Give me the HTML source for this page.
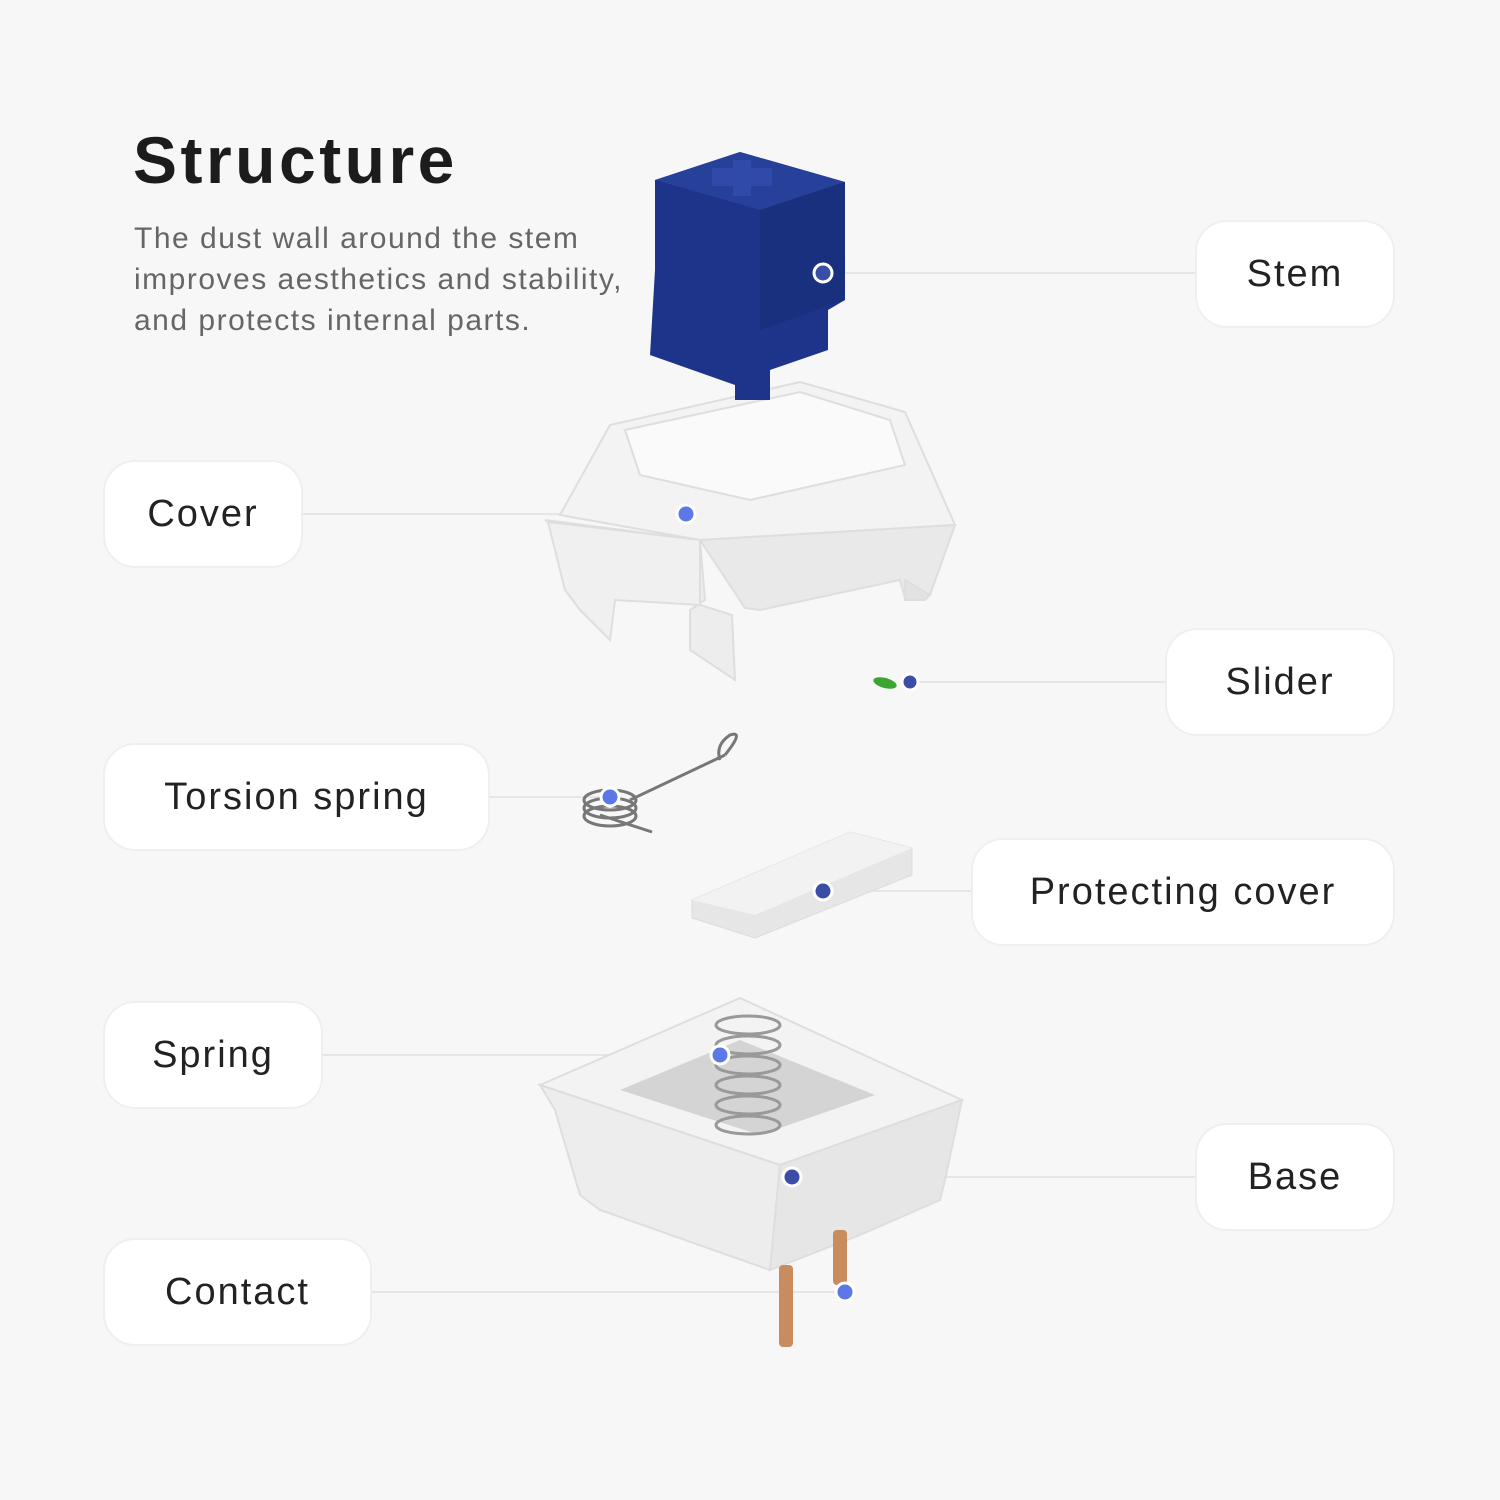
<!DOCTYPE html>
<html><head><meta charset="utf-8"><style>
html,body{margin:0;padding:0}
body{width:1500px;height:1500px;background:#f7f7f7;position:relative;overflow:hidden;font-family:"Liberation Sans",sans-serif}
.box{position:absolute;background:#fff;border:2px solid #efefef;border-radius:32px;box-sizing:border-box;height:108px;display:flex;align-items:center;justify-content:center;font-size:38px;letter-spacing:2px;color:#222}
h1{position:absolute;left:133px;top:122px;margin:0;font-size:66px;font-weight:bold;color:#1c1c1c;letter-spacing:3.5px}
.sub{position:absolute;left:134px;top:218px;font-size:30px;line-height:41px;color:#666;letter-spacing:1.5px}
svg{position:absolute;left:0;top:0}
</style></head><body>
<svg width="1500" height="1500">
<g stroke="#e6e6e6" stroke-width="2" fill="none">
<line x1="823" y1="273" x2="1195" y2="273"/>
<line x1="303" y1="514" x2="686" y2="514"/>
<line x1="910" y1="682" x2="1165" y2="682"/>
<line x1="490" y1="797" x2="610" y2="797"/>
<line x1="823" y1="891" x2="971" y2="891"/>
<line x1="323" y1="1055" x2="720" y2="1055"/>
<line x1="792" y1="1177" x2="1195" y2="1177"/>
<line x1="372" y1="1292" x2="845" y2="1292"/>
</g>
<!-- cover -->
<g stroke="#dedede" stroke-width="2">
<polygon points="560,515 610,425 800,382 905,412 955,525 700,540" fill="#f3f3f3"/>
<polygon points="625,430 800,392 890,420 905,465 750,500 640,475" fill="#fafafa"/>
<polygon points="545,520 700,540 705,600 690,610 690,650 735,680 732,615 700,605" fill="#ededed"/>
<polygon points="548,522 700,540 700,605 615,600 610,640 580,610 565,590" fill="#f0f0f0"/>
<polygon points="700,540 955,525 930,595 905,598 900,580 760,610 745,608" fill="#e9e9e9"/>
<polygon points="905,580 930,595 925,600 905,600" fill="#e2e2e2"/>
</g>
<!-- stem -->
<polygon points="655,180 740,152 845,182 845,300 828,310 828,350 770,370 770,400 735,400 735,385 650,355 655,270" fill="#1e338a"/>
<polygon points="655,180 740,152 845,182 760,210" fill="#27419b"/>
<polygon points="760,210 845,182 845,300 760,330" fill="#19307f"/>
<rect x="712" y="168" width="60" height="18" fill="#2f4aa8"/>
<rect x="733" y="160" width="18" height="36" fill="#2f4aa8"/>
<!-- slider -->
<ellipse cx="885" cy="683" rx="12" ry="5" fill="#3aa52f" transform="rotate(15 885 683)"/>
<!-- torsion spring -->
<g stroke="#777" stroke-width="3" fill="none">
<ellipse cx="610" cy="800" rx="26" ry="10"/><ellipse cx="610" cy="808" rx="26" ry="10"/><ellipse cx="610" cy="816" rx="26" ry="10"/>
<line x1="630" y1="800" x2="725" y2="755"/><path d="M725 755 Q745 730 730 735 Q715 745 720 760"/>
<line x1="600" y1="815" x2="652" y2="832"/>
</g>
<!-- protecting cover -->
<polygon points="692,900 850,832 912,848 912,875 755,938 692,918" fill="#e6e6e6" stroke="#dcdcdc"/>
<polygon points="692,900 850,832 912,848 755,915" fill="#f2f2f2"/>
<!-- base -->
<g stroke="#dedede" stroke-width="2">
<polygon points="540,1085 740,998 962,1100 780,1165" fill="#f3f3f3"/>
<polygon points="620,1090 740,1040 875,1095 760,1135" fill="#d4d4d4" stroke="none"/>
<polygon points="540,1085 780,1165 770,1270 600,1210 580,1195 555,1110" fill="#ededed"/>
<polygon points="780,1165 962,1100 945,1180 940,1200 860,1235 770,1270" fill="#e6e6e6"/>
</g>
<g stroke="#999" stroke-width="3" fill="none">
<ellipse cx="748" cy="1025" rx="32" ry="9"/><ellipse cx="748" cy="1045" rx="32" ry="9"/><ellipse cx="748" cy="1065" rx="32" ry="9"/><ellipse cx="748" cy="1085" rx="32" ry="9"/><ellipse cx="748" cy="1105" rx="32" ry="9"/><ellipse cx="748" cy="1125" rx="32" ry="9"/>
</g>
<rect x="779" y="1265" width="14" height="82" rx="4" fill="#c98c5e"/>
<rect x="833" y="1230" width="14" height="55" rx="4" fill="#c98c5e"/>
<!-- dots -->
<g stroke="#fff" stroke-width="3">
<circle cx="823" cy="273" r="9" fill="#3a4ea8"/>
<circle cx="686" cy="514" r="9" fill="#5b78e6"/>
<circle cx="910" cy="682" r="8" fill="#3a4ea8"/>
<circle cx="610" cy="797" r="9" fill="#5b78e6"/>
<circle cx="823" cy="891" r="9" fill="#3a4ea8"/>
<circle cx="720" cy="1055" r="9" fill="#5b78e6"/>
<circle cx="792" cy="1177" r="9" fill="#3a4ea8"/>
<circle cx="845" cy="1292" r="9" fill="#5b78e6"/>
</g>
</svg>
<h1>Structure</h1>
<div class="sub">The dust wall around the stem<br>improves aesthetics and stability,<br>and protects internal parts.</div>
<div class="box" style="left:1195px;top:220px;width:200px">Stem</div>
<div class="box" style="left:103px;top:460px;width:200px">Cover</div>
<div class="box" style="left:1165px;top:628px;width:230px">Slider</div>
<div class="box" style="left:103px;top:743px;width:387px">Torsion spring</div>
<div class="box" style="left:971px;top:838px;width:424px">Protecting cover</div>
<div class="box" style="left:103px;top:1001px;width:220px">Spring</div>
<div class="box" style="left:1195px;top:1123px;width:200px">Base</div>
<div class="box" style="left:103px;top:1238px;width:269px">Contact</div>
</body></html>
